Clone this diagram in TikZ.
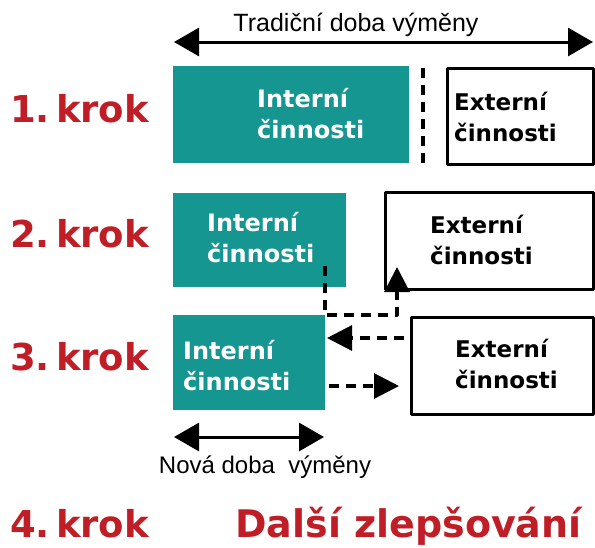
\documentclass[tikz,border=0pt]{standalone}
\usepackage{fontspec}
\setmainfont{DejaVu Sans}
\newfontfamily\thinfont{Liberation Sans}
\usetikzlibrary{arrows.meta}
\definecolor{tealbox}{RGB}{22,150,145}
\definecolor{krokred}{RGB}{192,30,38}
\begin{document}
\begin{tikzpicture}[x=1pt,y=-1pt,line join=round,
	intbox/.style={fill=tealbox,draw=none,anchor=north west,inner sep=0pt},
	extbox/.style={draw,line width=2.6pt,anchor=north west,inner sep=0pt},
	krok/.style={text=krokred,font=\bfseries\fontsize{37}{37}\selectfont,anchor=base west,inner sep=0pt},
	inttxt/.style={text=white,font=\bfseries\fontsize{24}{31}\selectfont,align=left,anchor=west,inner sep=0pt},
	exttxt/.style={font=\bfseries\fontsize{23}{31}\selectfont,align=left,anchor=west,inner sep=0pt},
	dobatxt/.style={font=\thinfont\fontsize{25}{25}\selectfont,inner sep=0pt},
	dashline/.style={line width=3.2pt,dash pattern=on 10pt off 7pt},
	dtip/.tip={Triangle[length=25pt,width=25pt]},
	btip/.tip={Triangle[length=25pt,width=28pt]}]
\useasboundingbox (0,0) rectangle (595,547);
% top: traditional changeover time
\node[dobatxt] (trad) at (356,25) {Tradiční doba výměny};
\coordinate (tl) at (174,42); \coordinate (tr) at (593,42);
\draw[line width=3pt,{btip}-{btip}] (tl)--(tr);
% step 1
\node[krok] (k1) at (10,122) {1.\hspace{6pt}krok};
\node[intbox,minimum width=236pt,minimum height=97pt] (i1) at (173,66) {};
\node[inttxt] (ti1) at (257,114) {Interní\\činnosti};
\draw[dashline] (423,68)--(423,163);
\node[extbox,minimum width=146pt,minimum height=96pt] (e1) at (446,67) {};
\node[exttxt] (te1) at (454,117) {Externí\\činnosti};
% step 2
\node[krok] (k2) at (10,247) {2.\hspace{6pt}krok};
\node[intbox,minimum width=173pt,minimum height=94pt] (i2) at (173,193) {};
\node[inttxt] (ti2) at (207,238) {Interní\\činnosti};
\node[extbox,minimum width=208pt,minimum height=97pt] (e2) at (384,191) {};
\node[exttxt] (te2) at (430,240) {Externí\\činnosti};
% step 3
\node[krok] (k3) at (10,370) {3.\hspace{6pt}krok};
\node[intbox,minimum width=152pt,minimum height=95pt] (i3) at (173,315) {};
\node[inttxt] (ti3) at (183,366) {Interní\\činnosti};
\node[extbox,minimum width=182pt,minimum height=97pt] (e3) at (410,316) {};
\node[exttxt] (te3) at (455,364) {Externí\\činnosti};
% moves between steps
\coordinate (m1) at (325,266); \coordinate (m2) at (325,315);
\coordinate (m3) at (397,315); \coordinate (m4) at (397,267);
\draw[dashline,-{dtip}] (m1)--(m2)--(m3)--(m4);
\coordinate (a1) at (404,338); \coordinate (a2) at (327,338);
\draw[dashline,-{dtip}] (a1)--(a2);
\coordinate (b1) at (329,386); \coordinate (b2) at (399,386);
\draw[dashline,-{dtip}] (b1)--(b2);
% new changeover time
\coordinate (bl) at (174,437); \coordinate (br) at (324,437);
\draw[line width=3pt,{btip}-{btip}] (bl)--(br);
\node[dobatxt,font=\thinfont\fontsize{24}{24}\selectfont] (nova) at (265,467) {Nová doba\ \ výměny};
% step 4
\node[krok] (k4) at (10,537) {4.\hspace{6pt}krok};
\node[krok,font=\bfseries\fontsize{38}{38}\selectfont] (zlep) at (235,537) {Další zlepšování};
\end{tikzpicture}
\end{document}
